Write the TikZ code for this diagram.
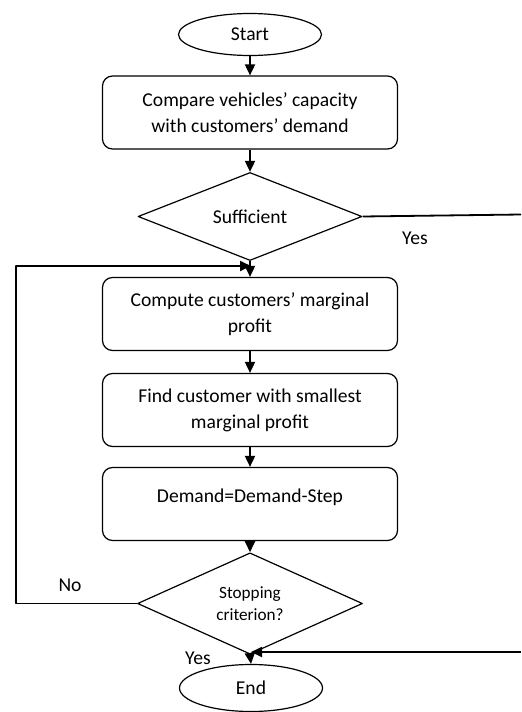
\documentclass[tikz,border=0pt]{standalone}
\usepackage{fontspec}
\setmainfont{Carlito}
\usetikzlibrary{shapes.geometric,arrows.meta}
\tikzset{
  term/.style={ellipse, draw, line width=0.6pt, minimum width=71.5pt, minimum height=21pt, inner sep=0pt},
  stepbox/.style={rectangle, rounded corners=5pt, draw, line width=0.6pt, minimum width=147.5pt, minimum height=36.5pt, align=center, inner sep=0pt},
  decide/.style={diamond, draw, line width=0.6pt, minimum width=112pt, minimum height=40.5pt, inner sep=0pt, align=center},
  link/.style={line width=0.9pt}
}
\begin{document}
\begin{tikzpicture}[x=0.5pt, y=-0.5pt, >={Triangle[length=5.5pt, width=5pt]}, font=\fontsize{9.8}{13}\selectfont, line join=round]
\useasboundingbox (0,0) rectangle (521,712);
\node[term] (start) at (250,34.5) {Start};
\node[stepbox] (compare) at (250,112.5) {Compare vehicles’ capacity\\with customers’ demand};
\node[decide] (suff) at (250,216.5) {Sufficient};
\node[stepbox] (compute) at (250,314) {Compute customers’ marginal\\profit};
\node[stepbox] (find) at (250,410) {Find customer with smallest\\marginal profit};
\node[stepbox, text height=7pt, text depth=8.5pt] (demand) at (250,504) {Demand=Demand-Step};
\node[decide, minimum width=112.5pt, minimum height=42.5pt, font=\fontsize{8.6}{11}\selectfont] (stop) at (250,603.5) {Stopping\\criterion?};
\node[term, minimum width=71.5pt, minimum height=23.5pt] (end) at (251,688) {End};
\node (yes1) at (415,238) {Yes};
\node (no) at (70,585) {No};
\node (yes2) at (198,658) {Yes};
\path
(521,214.5) coordinate (r1)
(16,603.5) coordinate (l1)
(251,266) coordinate (join)
(521,652) coordinate (r2)
(251,652) coordinate (join2)
;
\draw[link,->] (start)--(compare);
\draw[link,->] (compare)--(suff);
\draw[link,->] (suff.south)--(compute.north);
\draw[link] (suff.east)--(r1);
\draw[link,->] (stop.west)--(l1)|-(join);
\draw[link,->] (compute)--(find);
\draw[link,->] (find)--(demand);
\draw[link,->] (demand)--(stop);
\draw[link,->] (stop.south)--(end.north);
\draw[link,->] (r2)--(join2);
\end{tikzpicture}
\end{document}
